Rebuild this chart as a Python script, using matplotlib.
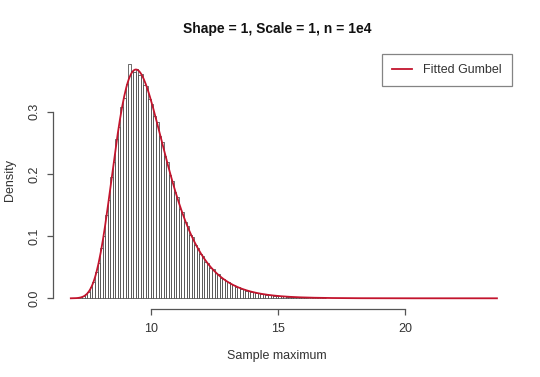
import numpy as np
import matplotlib
matplotlib.use("Agg")
import matplotlib.pyplot as plt

# histogram of sample maxima (density scale), bin width 0.1
bin_left = [round(6.9 + 0.1 * i, 1) for i in range(100)]
density = [
    0.0002, 0.0004, 0.0009, 0.0016, 0.0029, 0.0062, 0.0101, 0.0182, 0.0265, 0.0421,
    0.0569, 0.0812, 0.1008, 0.1337, 0.1585, 0.1946, 0.2187, 0.2563, 0.2752, 0.3081,
    0.3213, 0.3448, 0.3772, 0.3651, 0.3634, 0.3689, 0.3598, 0.3612, 0.3436, 0.3417,
    0.3197, 0.3126, 0.2938, 0.2834, 0.2607, 0.2511, 0.2287, 0.2196, 0.1985, 0.1893,
    0.1702, 0.1627, 0.1443, 0.1381, 0.1219, 0.1162, 0.1021, 0.0978, 0.0852, 0.0813,
    0.0707, 0.0684, 0.0591, 0.0563, 0.0488, 0.0467, 0.0402, 0.0389, 0.0331, 0.0318,
    0.0274, 0.0263, 0.0226, 0.0214, 0.0185, 0.0178, 0.0152, 0.0146, 0.0124, 0.0119,
    0.0101, 0.0099, 0.0083, 0.0080, 0.0068, 0.0066, 0.0055, 0.0054, 0.0046, 0.0044,
    0.0037, 0.0036, 0.0030, 0.0030, 0.0025, 0.0024, 0.0020, 0.0019, 0.0017, 0.0016,
    0.0013, 0.0013, 0.0011, 0.0011, 0.0010, 0.0009, 0.0008, 0.0007, 0.0006, 0.0005,
]
bin_width = 0.1

# fitted gumbel parameters and range of the fitted curve
gumbel_loc = 9.41
gumbel_scale = 1.0
curve_from, curve_to = 6.85, 23.6

x_ticks = [10, 15, 20]
y_ticks = [0.0, 0.1, 0.2, 0.3]
y_tick_labels = ["0.0", "0.1", "0.2", "0.3"]

plt.rcParams['font.family'] = ['Liberation Sans', 'DejaVu Sans']

W, H = 540, 377
fig = plt.figure(figsize=(W / 100, H / 100), dpi=100)
left, right, top, bottom = 53, 500, 54, 309
ax = fig.add_axes([left / W, 1 - bottom / H, (right - left) / W, (bottom - top) / H])

ax.bar(bin_left, density, width=bin_width, align='edge',
       facecolor='white', edgecolor='#333333', linewidth=0.5)

xs = np.linspace(curve_from, curve_to, 400)
z = (xs - gumbel_loc) / gumbel_scale
ys = np.exp(-z - np.exp(-z)) / gumbel_scale
ax.plot(xs, ys, color='#c3142d', linewidth=1.3, label='Fitted Gumbel')

ax.set_xlim(6.15, 23.72)
ax.set_ylim(-0.0172, 0.3928)

for s in ['top', 'right']:
    ax.spines[s].set_visible(False)
ax.spines['left'].set_bounds(0, 0.3)
ax.spines['bottom'].set_bounds(10, 20)
for s in ['left', 'bottom']:
    ax.spines[s].set_color('#555555')
    ax.spines[s].set_linewidth(0.9)

ax.set_xticks(x_ticks)
ax.set_xticklabels([str(t) for t in x_ticks])
ax.set_yticks(y_ticks)
ax.set_yticklabels(y_tick_labels, rotation=90, va='center')
ax.tick_params(axis='both', direction='out', length=4, width=0.9, color='#555555',
               labelsize=9, labelcolor='#333333')
ax.tick_params(axis='x', pad=6)
ax.tick_params(axis='y', pad=5)

leg = ax.legend(loc='upper right', bbox_to_anchor=(512 / W, 1 - 54 / H),
                bbox_transform=fig.transFigure, borderaxespad=0, fancybox=False,
                edgecolor='#666666', fontsize=9, handlelength=1.6,
                borderpad=0.8, handletextpad=0.9)
leg.get_frame().set_linewidth(0.9)
for t in leg.get_texts():
    t.set_color('#333333')

fig.text(277 / W, 1 - 29 / H, "Shape = 1, Scale = 1, n = 1e4", ha='center', va='center',
         fontsize=10, fontweight='bold', color='#111111')
fig.text(277 / W, 1 - 356 / H, "Sample maximum", ha='center', va='center', fontsize=9,
         color='#333333')
fig.text(10 / W, 1 - 180 / H, "Density", ha='center', va='center', rotation=90,
         fontsize=9, color='#333333')

fig.savefig("out.png", dpi=100)
